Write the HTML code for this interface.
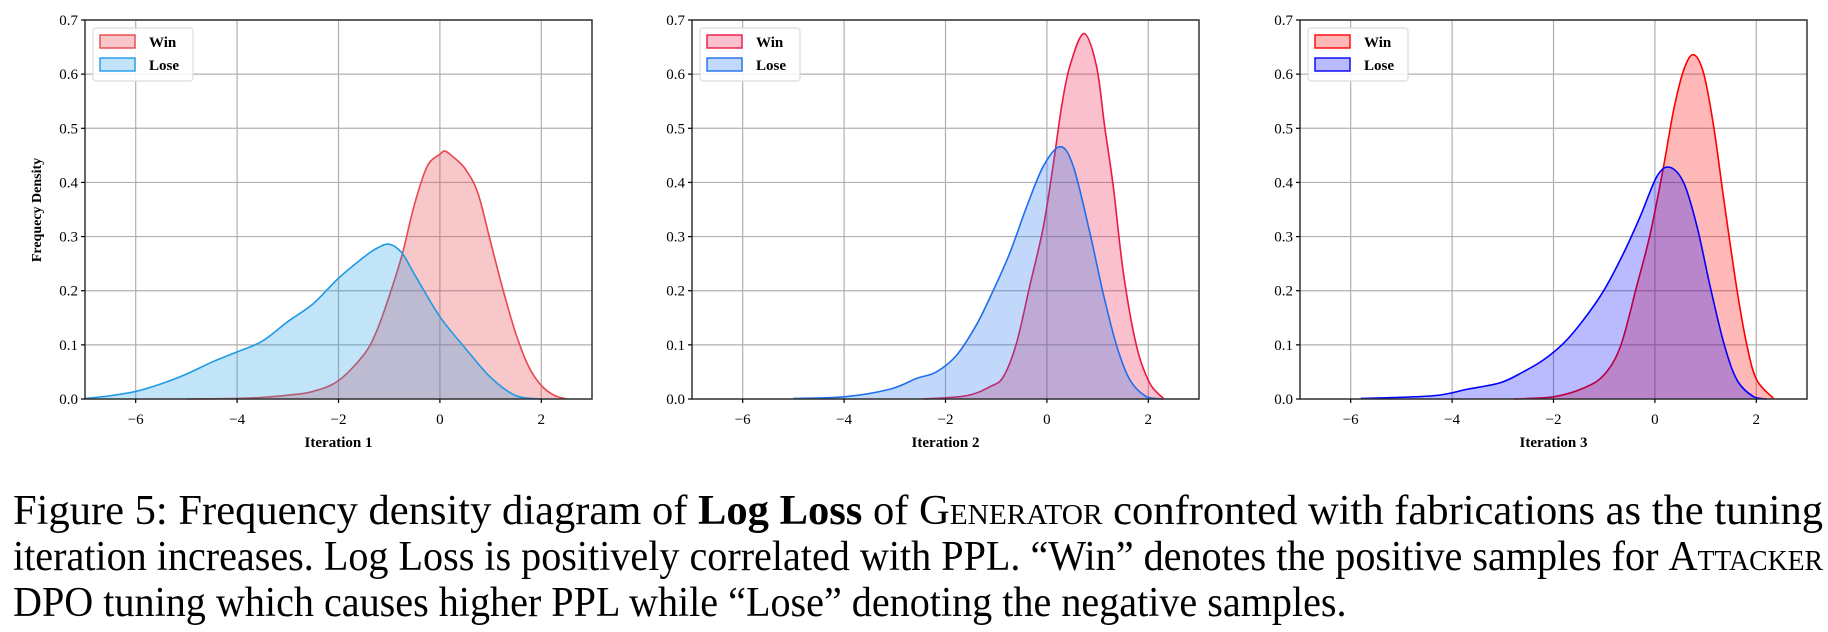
<!DOCTYPE html>
<html><head><meta charset="utf-8">
<style>
html,body{margin:0;padding:0;background:#fff;}
body{width:1828px;height:632px;overflow:hidden;position:relative;font-family:"Liberation Serif","DejaVu Serif",serif;}
#fig{position:absolute;left:0;top:0;}
.cap{position:absolute;left:13px;white-space:nowrap;font-size:42px;color:#000;line-height:1;transform-origin:0 0;}
.sc{font-variant:small-caps;}
</style></head>
<body>
<svg id="fig" width="1828" height="470" xmlns="http://www.w3.org/2000/svg"></svg>
<div class="cap" id="cap1" style="top:490px">Figure 5: Frequency density diagram of <b>Log Loss</b> of <span class="sc">Generator</span> confronted with fabrications as the tuning</div>
<div class="cap" id="cap2" style="top:536px">iteration increases. Log Loss is positively correlated with PPL. “Win” denotes the positive samples for <span class="sc">Attacker</span></div>
<div class="cap" id="cap3" style="top:582px">DPO tuning which causes higher PPL while “Lose” denoting the negative samples.</div>
<script>
// ---- data ----
const xTicks = [-6,-4,-2,0,2];
const yTicks = [0.0,0.1,0.2,0.3,0.4,0.5,0.6,0.7];
const panelLabels = ["Iteration 1","Iteration 2","Iteration 3"];
const seriesNames = ["Win","Lose"];
// Iteration 1
const lose1X = [-7,-6.5,-6,-5.5,-5,-4.5,-4,-3.5,-3,-2.5,-2,-1.5,-1.25,-1,-0.75,-0.5,0,0.5,1,1.5,2];
const lose1Y = [0.001,0.006,0.014,0.028,0.046,0.068,0.087,0.107,0.143,0.176,0.223,0.262,0.278,0.286,0.27,0.23,0.152,0.094,0.04,0.006,0.0];
const win1X = [-5,-4,-3.5,-3,-2.5,-2,-1.5,-1.25,-1,-0.75,-0.5,-0.25,0,0.1,0.25,0.5,0.75,1,1.25,1.5,1.75,2,2.25,2.5];
const win1Y = [0,0.001,0.003,0.007,0.014,0.034,0.082,0.125,0.19,0.265,0.36,0.43,0.452,0.458,0.448,0.425,0.38,0.29,0.2,0.12,0.06,0.025,0.007,0];
// Iteration 2
const lose2X = [-5,-4,-3.1,-2.57,-2.18,-1.78,-1.39,-1.06,-0.73,-0.4,-0.07,0.26,0.52,0.85,1.11,1.38,1.64,1.97,2.3];
const lose2Y = [0.001,0.004,0.018,0.038,0.05,0.081,0.137,0.2,0.27,0.355,0.43,0.466,0.43,0.306,0.195,0.097,0.035,0.004,0];
const win2X = [-2.44,-1.59,-1.12,-0.86,-0.6,-0.34,-0.07,0.13,0.29,0.45,0.73,0.98,1.14,1.31,1.51,1.77,2.03,2.3];
const win2Y = [0,0.006,0.023,0.041,0.103,0.208,0.318,0.436,0.54,0.614,0.675,0.614,0.503,0.392,0.232,0.097,0.029,0.001];
// Iteration 3
const lose3X = [-5.8,-4.37,-3.7,-3.05,-2.6,-2.2,-1.8,-1.41,-1.01,-0.62,-0.29,0.04,0.29,0.57,0.83,1.09,1.36,1.62,1.95,2.2];
const lose3Y = [0.001,0.006,0.018,0.03,0.05,0.072,0.103,0.146,0.2,0.269,0.337,0.411,0.428,0.399,0.319,0.208,0.103,0.035,0.004,0];
const win3X = [-2.79,-2.0,-1.41,-1.01,-0.68,-0.36,-0.09,0.17,0.37,0.57,0.76,0.96,1.16,1.36,1.62,1.82,2.01,2.34];
const win3Y = [0,0.004,0.02,0.044,0.097,0.208,0.306,0.429,0.534,0.608,0.636,0.602,0.503,0.368,0.201,0.097,0.035,0.001];

const panels = [
 {L:85, win:[win1X,win1Y], lose:[lose1X,lose1Y], wc:"#e8474e", lc:"#1f9ae6", wa:0.3, la:0.27},
 {L:692, win:[win2X,win2Y], lose:[lose2X,lose2Y], wc:"#ee1845", lc:"#1f6fee", wa:0.27, la:0.27},
 {L:1300, win:[win3X,win3Y], lose:[lose3X,lose3Y], wc:"#ff0000", lc:"#0000ff", wa:0.28, la:0.27}
];
const XMIN=-7, XMAX=3, YMAX=0.7, W=507, TOP=20, BOT=399;
const NS="http://www.w3.org/2000/svg";
const svg=document.getElementById('fig');
function mk(tag,attrs,parent){const e=document.createElementNS(NS,tag);for(const k in attrs)e.setAttribute(k,attrs[k]);(parent||svg).appendChild(e);return e;}
function pathFor(xs,ys,sx,sy){
  const P=xs.map((x,i)=>[sx(x),sy(ys[i])]);
  let d="M"+P[0][0].toFixed(2)+","+P[0][1].toFixed(2);
  for(let i=0;i<P.length-1;i++){
    const p0=P[Math.max(0,i-1)],p1=P[i],p2=P[i+1],p3=P[Math.min(P.length-1,i+2)];
    const t=1/6;
    let c1=[p1[0]+(p2[0]-p0[0])*t,p1[1]+(p2[1]-p0[1])*t];
    let c2=[p2[0]-(p3[0]-p1[0])*t,p2[1]-(p3[1]-p1[1])*t];
    c1[1]=Math.min(c1[1],BOT);c2[1]=Math.min(c2[1],BOT);
    d+=" C"+c1[0].toFixed(2)+","+c1[1].toFixed(2)+" "+c2[0].toFixed(2)+","+c2[1].toFixed(2)+" "+p2[0].toFixed(2)+","+p2[1].toFixed(2);
  }
  return d;
}
panels.forEach((p,pi)=>{
  const sx=x=>p.L+(x-XMIN)/(XMAX-XMIN)*W;
  const sy=y=>BOT-(y/YMAX)*(BOT-TOP);
  const g=mk('g',{});
  
  
  xTicks.forEach(t=>{const l=mk('line',{x1:sx(t),x2:sx(t),y1:TOP,y2:BOT,stroke:"#b0b0b0","stroke-width":1.2},g);
    });
  yTicks.forEach(t=>{const l=mk('line',{x1:p.L,x2:p.L+W,y1:sy(t),y2:sy(t),stroke:"#b0b0b0","stroke-width":1.2},g);
    });
  [["win",p.win,p.wc,p.wa],["lose",p.lose,p.lc,p.la]].forEach(([nm,[xs,ys],c,a])=>{
    const d=pathFor(xs,ys,sx,sy);
    const f=mk('path',{d:d+" L"+sx(xs[xs.length-1])+","+BOT+" L"+sx(xs[0])+","+BOT+" Z",fill:c,"fill-opacity":a,stroke:"none"},g);
    
    
    const l=mk('path',{d:d,fill:"none",stroke:c,"stroke-width":1.6},g);
    
    
  });
  const r=mk('rect',{x:p.L,y:TOP,width:W,height:BOT-TOP,fill:"none",stroke:"#333","stroke-width":1.5},g);
  
  yTicks.forEach(t=>{
    mk('line',{x1:p.L-4,x2:p.L,y1:sy(t),y2:sy(t),stroke:"#000","stroke-width":1.2},g);
    const tx=mk('text',{x:p.L-7,y:sy(t)+5,"text-anchor":"end","font-size":15,"font-family":"Liberation Serif, serif"},g);
    tx.textContent=t.toFixed(1);
    
  });
  xTicks.forEach(t=>{
    mk('line',{x1:sx(t),x2:sx(t),y1:BOT,y2:BOT+4,stroke:"#000","stroke-width":1.2},g);
    const tx=mk('text',{x:sx(t),y:BOT+25,"text-anchor":"middle","font-size":15,"font-family":"Liberation Serif, serif"},g);
    tx.textContent=(t<0?"\u2212"+(-t):""+t);
    
  });
  const xl=mk('text',{x:p.L+W/2,y:447,"text-anchor":"middle","font-size":15,"font-weight":"bold","font-family":"Liberation Serif, serif"},g);
  xl.textContent=panelLabels[pi];
  
  const lg=mk('g',{},g);
  
  mk('rect',{x:p.L+8,y:28,width:100,height:53,rx:3,fill:"#fff","fill-opacity":0.85,stroke:"#dcdcdc","stroke-width":1.2},lg);
  [[p.wc,p.wa,seriesNames[0],35],[p.lc,p.la,seriesNames[1],58]].forEach(([c,a,n,y])=>{
    const e=mk('g',{},lg);
    
    mk('rect',{x:p.L+15,y:y,width:35,height:13,fill:c,"fill-opacity":a,stroke:c,"stroke-width":1.4},e);
    const t=mk('text',{x:p.L+64,y:y+12,"font-size":15,"font-weight":"bold","font-family":"Liberation Serif, serif"},e);
    t.textContent=n;
  });
});
const yl=mk('text',{x:0,y:0,transform:"translate(41,210) rotate(-90)","text-anchor":"middle","font-size":14,"font-weight":"bold","font-family":"Liberation Serif, serif"});
yl.textContent="Frequecy Density";


// fit caption lines by horizontal scaling
let s2=1;
["cap1","cap2"].forEach(id=>{
  const el=document.getElementById(id);
  const w=el.getBoundingClientRect().width;
  const s=1810/w;
  if(id==="cap2")s2=s;
  el.style.transform="scaleX("+s+")";
});
document.getElementById("cap3").style.transform="scaleX("+s2+")";
</script>
</body></html>
